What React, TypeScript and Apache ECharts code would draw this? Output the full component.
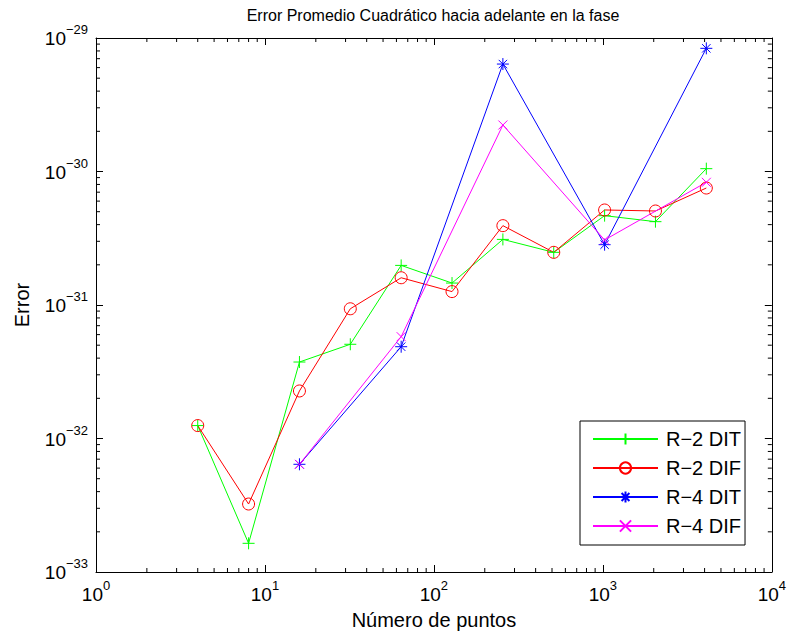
import React, { useEffect, useRef } from 'react';
import * as echarts from 'echarts';

const FONT = '"Liberation Sans", Arial, Helvetica, sans-serif';

const titleText = 'Error Promedio Cuadrático hacia adelante en la fase';
const xName = 'Número de puntos';
const yName = 'Error';

const nPoints = [4, 8, 16, 32, 64, 128, 256, 512, 1024, 2048, 4096];
const r2Dit = [1.25e-32, 1.64e-33, 3.74e-32, 5.08e-32, 1.98e-31, 1.46e-31, 3.1e-31, 2.48e-31, 4.67e-31, 4.21e-31, 1.05e-30];
const r2Dif = [1.25e-32, 3.23e-33, 2.27e-32, 9.37e-32, 1.6e-31, 1.26e-31, 3.93e-31, 2.48e-31, 5.15e-31, 5.06e-31, 7.52e-31];
const nPointsR4 = [16, 64, 256, 1024, 4096];
const r4Dit = [6.41e-33, 4.87e-32, 6.38e-30, 2.83e-31, 8.37e-30];
const r4Dif = [6.41e-33, 5.79e-32, 2.23e-30, 3.07e-31, 8.3e-31];

const seriesNames = ['R\u22122 DIT', 'R\u22122 DIF', 'R\u22124 DIT', 'R\u22124 DIF'];
const seriesColors = ['#00ff00', '#ff0000', '#0000ff', '#ff00ff'];

// ECharts' log scale rounds tick values to 10 decimals, so the y values are
// plotted in units of 1e-33 and the labels add the exponent back.
const Y_UNIT_EXP = -33;
const Y_UNIT = Math.pow(10, Y_UNIT_EXP);

const X_MIN = 1;
const X_MAX = 10000;
const Y_MIN = 1; // 1e-33
const Y_MAX = 10000; // 1e-29

const xDecades = [0, 1, 2, 3];
const yDecades = [0, 1, 2, 3];
const minorMult = [2, 3, 4, 5, 6, 7, 8, 9];

const SYM_PLUS = 'path://M0,6L12,6M6,0L6,12';
const SYM_STAR = 'path://M0,6L12,6M6,0L6,12M1.8,1.8L10.2,10.2M1.8,10.2L10.2,1.8';
const SYM_X = 'path://M0,0L10,10M0,10L10,0';

function expLabel(e: number) {
  const s = String(e).replace('-', '\u2212');
  return '{b|10}{s|' + s + '}';
}
const xLabel = (v: number) => expLabel(Math.round(Math.log10(v)));
const yLabel = (v: number) => expLabel(Math.round(Math.log10(v)) + Y_UNIT_EXP);

const richLabel = {
  b: { fontSize: 19, fontFamily: FONT, color: '#000', lineHeight: 20, verticalAlign: 'bottom' },
  s: { fontSize: 13, fontFamily: FONT, color: '#000', lineHeight: 13, padding: [0, 0, 12, 0], verticalAlign: 'bottom' },
};

function buildOption() {
  const xMinor: number[][] = [];
  xDecades.forEach((d) => minorMult.forEach((m) => xMinor.push([m * Math.pow(10, d), Y_MIN])));
  const yMinor: number[][] = [];
  yDecades.forEach((d) => minorMult.forEach((m) => yMinor.push([X_MIN, m * Math.pow(10, d)])));

  const tickStyle = { stroke: '#000', lineWidth: 1 };

  const lineSeries = (name: string, xs: number[], ys: number[], color: string, symbol: string, size: number) => ({
    name,
    type: 'line',
    data: xs.map((x, i) => [x, ys[i] / Y_UNIT]),
    symbol,
    symbolSize: size,
    showAllSymbol: true,
    color,
    lineStyle: { color, width: 1 },
    itemStyle: { color: 'transparent', borderColor: color, borderWidth: 1 },
    emphasis: { disabled: true },
    z: 3,
  });

  const axisCommon = {
    type: 'log',
    logBase: 10,
    axisLine: { show: true, onZero: false, lineStyle: { color: '#000', width: 1 } },
    axisTick: { show: true, inside: true, length: 7, lineStyle: { color: '#000', width: 1 } },
    splitLine: { show: false },
    minorTick: { show: false },
  };

  return {
    animation: false,
    backgroundColor: '#fff',
    title: {
      text: titleText,
      left: 428,
      textAlign: 'center',
      top: 2,
      textStyle: { fontFamily: FONT, fontSize: 16, fontWeight: 'normal', color: '#000' },
    },
    grid: { left: 96, right: 17, top: 38, bottom: 65, show: false },
    xAxis: [
      {
        ...axisCommon,
        position: 'bottom',
        min: X_MIN,
        max: X_MAX,
        name: xName,
        nameLocation: 'middle',
        nameGap: 38,
        nameTextStyle: { fontFamily: FONT, fontSize: 20, color: '#000' },
        axisLabel: { show: true, margin: 12, formatter: xLabel, rich: richLabel },
      },
      {
        ...axisCommon,
        position: 'top',
        min: X_MIN,
        max: X_MAX,
        axisLabel: { show: false },
      },
    ],
    yAxis: [
      {
        ...axisCommon,
        position: 'left',
        min: Y_MIN,
        max: Y_MAX,
        name: yName,
        nameLocation: 'middle',
        nameGap: 64,
        nameRotate: 90,
        nameTextStyle: { fontFamily: FONT, fontSize: 20, color: '#000' },
        axisLabel: { show: true, margin: 8, formatter: yLabel, rich: richLabel },
      },
      {
        ...axisCommon,
        position: 'right',
        min: Y_MIN,
        max: Y_MAX,
        axisLabel: { show: false },
      },
    ],
    legend: {
      orient: 'vertical',
      left: 580,
      top: 421,
      data: seriesNames,
      backgroundColor: '#fff',
      borderColor: '#000',
      borderWidth: 1,
      borderRadius: 0,
      padding: [8, 4, 9, 12],
      itemWidth: 65,
      itemHeight: 14,
      itemGap: 9,
      textStyle: { fontFamily: FONT, fontSize: 20, color: '#000', lineHeight: 20, padding: [0, 0, 0, 3] },
      selectedMode: false,
    },
    series: [
      lineSeries(seriesNames[0], nPoints, r2Dit, seriesColors[0], SYM_PLUS, 12),
      lineSeries(seriesNames[1], nPoints, r2Dif, seriesColors[1], 'circle', 12),
      lineSeries(seriesNames[2], nPointsR4, r4Dit, seriesColors[2], SYM_STAR, 12),
      lineSeries(seriesNames[3], nPointsR4, r4Dif, seriesColors[3], SYM_X, 9),
      {
        type: 'custom',
        name: 'xminor',
        silent: true,
        clip: false,
        data: xMinor,
        encode: { x: 0, y: 1 },
        renderItem: (params: any, api: any) => {
          const v = api.value(0);
          const b = api.coord([v, Y_MIN]);
          const t = api.coord([v, Y_MAX]);
          return {
            type: 'group',
            children: [
              { type: 'line', shape: { x1: b[0], y1: b[1], x2: b[0], y2: b[1] - 4 }, style: tickStyle },
              { type: 'line', shape: { x1: t[0], y1: t[1], x2: t[0], y2: t[1] + 4 }, style: tickStyle },
            ],
          };
        },
        z: 2,
      },
      {
        type: 'custom',
        name: 'yminor',
        silent: true,
        clip: false,
        data: yMinor,
        encode: { x: 0, y: 1 },
        renderItem: (params: any, api: any) => {
          const v = api.value(1);
          const l = api.coord([X_MIN, v]);
          const r = api.coord([X_MAX, v]);
          return {
            type: 'group',
            children: [
              { type: 'line', shape: { x1: l[0], y1: l[1], x2: l[0] + 4, y2: l[1] }, style: tickStyle },
              { type: 'line', shape: { x1: r[0], y1: r[1], x2: r[0] - 4, y2: r[1] }, style: tickStyle },
            ],
          };
        },
        z: 2,
      },
    ],
  };
}

export default function App() {
  const ref = useRef<HTMLDivElement>(null);
  useEffect(() => {
    if (!ref.current) return;
    const chart = echarts.init(ref.current, null, { renderer: 'svg' });
    chart.setOption(buildOption() as any);
    return () => chart.dispose();
  }, []);
  return (
    <div
      ref={ref}
      style={{ position: 'absolute', left: 0, top: 0, width: 789, height: 637, background: '#fff' }}
    />
  );
}
